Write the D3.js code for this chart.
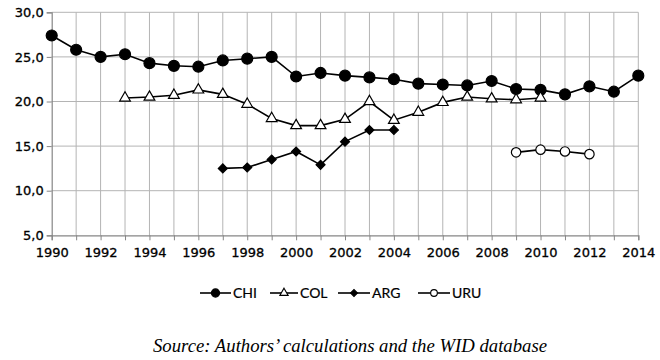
<!DOCTYPE html>
<html>
<head>
<meta charset="utf-8">
<script src="https://cdn.jsdelivr.net/npm/d3@7"></script>
<style>
  body { margin: 0; background: #fff; }
  svg { display: block; }
</style>
</head>
<body>
<div id="chart"></div>
<script>
// Data
let years = d3.range(1990, 2015);
let chiYears = d3.range(1990, 2015);
let chiValues = [27.4, 25.8, 25.0, 25.3, 24.3, 24.0, 23.9, 24.6, 24.8, 25.0, 22.8, 23.2,
    22.9, 22.7, 22.5, 22.0, 21.9, 21.8, 22.3, 21.4, 21.3, 20.8, 21.7, 21.1, 22.9];
let colYears = d3.range(1993, 2011);
let colValues = [20.4, 20.5, 20.7, 21.3, 20.8, 19.7, 18.1, 17.3, 17.3, 18.0, 20.0, 17.9,
    18.8, 19.9, 20.5, 20.3, 20.2, 20.4];
let argYears = d3.range(1997, 2005);
let argValues = [12.5, 12.6, 13.5, 14.4, 12.9, 15.5, 16.8, 16.8];
let uruYears = [2009, 2010, 2011, 2012];
let uruValues = [14.3, 14.6, 14.4, 14.1];
let yTicks = [5, 10, 15, 20, 25, 30];
let xTicks = d3.range(1990, 2015, 2);
let seriesNames = ["CHI", "COL", "ARG", "URU"];
let sourceText = "Source: Authors’ calculations and the WID database";

function toPoints(xs, ys) {
    return xs.map(function(x, i) { return {year: x, value: ys[i]}; });
}

let series = [
    {name: "CHI", symbol: d3.symbolCircle, size: 95, fill: "#000", rotate: 0, points: toPoints(chiYears, chiValues)},
    {name: "COL", symbol: d3.symbolTriangle, size: 50, fill: "#fff", rotate: 0, points: toPoints(colYears, colValues)},
    {name: "ARG", symbol: d3.symbolSquare, size: 40, fill: "#000", rotate: 45, points: toPoints(argYears, argValues)},
    {name: "URU", symbol: d3.symbolCircle, size: 70, fill: "#fff", rotate: 0, points: toPoints(uruYears, uruValues)}
];

let width = 660, height = 360;
let margin = {top: 12.3, left: 51.7, right: 21.7, bottom: 124.7};

let svg = d3.select("#chart").append("svg")
    .attr("width", width)
    .attr("height", height);

let x = d3.scaleLinear().domain([1990, 2014]).range([margin.left, width - margin.right]);
let y = d3.scaleLinear().domain([5, 30]).range([height - margin.bottom, margin.top]);

// gridlines
svg.append("g")
    .selectAll("line.vgrid")
    .data(years.slice(1))
    .enter().append("line")
    .attr("x1", function(d) { return x(d); })
    .attr("x2", function(d) { return x(d); })
    .attr("y1", y(5))
    .attr("y2", y(30))
    .attr("stroke", "#b4b4b4")
    .attr("stroke-width", 1);

svg.append("g")
    .selectAll("line.hgrid")
    .data(yTicks.slice(1))
    .enter().append("line")
    .attr("x1", x(1990))
    .attr("x2", x(2014))
    .attr("y1", function(d) { return y(d); })
    .attr("y2", function(d) { return y(d); })
    .attr("stroke", "#b4b4b4")
    .attr("stroke-width", 1);

// axes
let xAxis = svg.append("g")
    .attr("transform", "translate(0," + y(5) + ")")
    .call(d3.axisBottom(x).tickValues(years).tickSize(5).tickFormat(function(d) {
        return xTicks.indexOf(d) >= 0 ? d : "";
    }));
let yAxis = svg.append("g")
    .attr("transform", "translate(" + x(1990) + ",0)")
    .call(d3.axisLeft(y).tickValues(yTicks).tickSize(5).tickFormat(function(d) {
        return d3.format(".1f")(d).replace(".", ",");
    }));

[xAxis, yAxis].forEach(function(a) {
    a.select(".domain").attr("stroke", "#868686").attr("stroke-width", 1.2);
    a.selectAll(".tick line").attr("stroke", "#868686");
    a.selectAll(".tick text")
        .attr("fill", "#000")
        .attr("stroke", "#000")
        .attr("stroke-width", 0.3)
        .style("font-family", "'DejaVu Sans', Verdana, sans-serif")
        .style("font-size", "13px");
});
xAxis.selectAll(".tick text").attr("dy", "1.05em");
yAxis.selectAll(".tick text").attr("x", -8);

// lines and markers
let line = d3.line()
    .x(function(d) { return x(d.year); })
    .y(function(d) { return y(d.value); });

series.forEach(function(s) {
    svg.append("path")
        .datum(s.points)
        .attr("fill", "none")
        .attr("stroke", "#000")
        .attr("stroke-width", 1.6)
        .attr("d", line);

    svg.selectAll(".m-" + s.name)
        .data(s.points)
        .enter().append("path")
        .attr("class", "m-" + s.name)
        .attr("transform", function(d) {
            return "translate(" + x(d.year) + "," + y(d.value) + ") rotate(" + s.rotate + ")";
        })
        .attr("d", d3.symbol().type(s.symbol).size(s.size))
        .attr("fill", s.fill)
        .attr("stroke", "#000")
        .attr("stroke-width", 1.2);
});

// legend
let legendX = [200, 270, 338, 418];
let legendLen = [31, 28, 32, 32];
let legendScale = [0.55, 0.6, 0.6, 0.5];
let legend = svg.append("g").attr("transform", "translate(0,293)");
series.forEach(function(s, i) {
    let g = legend.append("g").attr("transform", "translate(" + legendX[i] + ",0)");
    g.append("line")
        .attr("x1", 0).attr("x2", legendLen[i])
        .attr("y1", 0).attr("y2", 0)
        .attr("stroke", "#000")
        .attr("stroke-width", 1.6);
    g.append("path")
        .attr("transform", "translate(" + (legendLen[i] / 2) + ",0) rotate(" + s.rotate + ")")
        .attr("d", d3.symbol().type(s.symbol).size(s.size * legendScale[i]))
        .attr("fill", s.fill)
        .attr("stroke", "#000")
        .attr("stroke-width", 1.1);
    g.append("text")
        .attr("x", legendLen[i] + 2)
        .attr("y", 0)
        .attr("dy", "0.35em")
        .style("font-family", "Lato, 'Open Sans', sans-serif")
        .style("font-size", "14px")
        .attr("fill", "#000")
        .attr("stroke", "#000")
        .attr("stroke-width", 0.2)
        .text(seriesNames[i]);
});

// source note
svg.append("text")
    .attr("x", 350)
    .attr("y", 352)
    .attr("text-anchor", "middle")
    .attr("textLength", 394)
    .attr("lengthAdjust", "spacingAndGlyphs")
    .style("font-family", "'Liberation Serif', 'DejaVu Serif', serif")
    .style("font-style", "italic")
    .style("font-size", "18px")
    .attr("fill", "#000")
    .text(sourceText);
</script>
</body>
</html>
